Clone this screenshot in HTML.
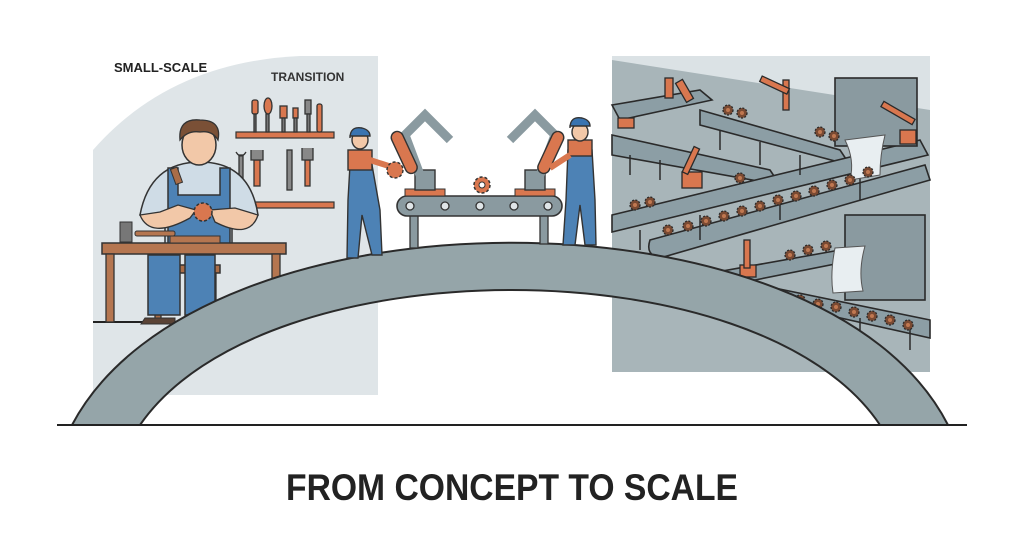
<!DOCTYPE html>
<html><head><meta charset="utf-8"><style>
html,body{margin:0;padding:0;background:#fff;width:1024px;height:555px;overflow:hidden}
svg{display:block}
</style></head><body>
<svg width="1024" height="555" viewBox="0 0 1024 555" xmlns="http://www.w3.org/2000/svg" font-family="Liberation Sans, sans-serif">
<defs>
<g id="gear"><circle r="6" fill="#b8643c" stroke="#333" stroke-width="1.2" stroke-dasharray="2 1.5"/><circle r="2.5" fill="#fff" stroke="#333" stroke-width="0.8"/></g>
<g id="sgear"><circle r="5" fill="#7a4a32" stroke="#2a2a2a" stroke-width="1.3" stroke-dasharray="2 1.4"/><circle r="2" fill="#c07850"/></g>
</defs>
<!-- left panel -->
<path d="M93,395 L93,150 Q170,62 300,56 L378,56 L378,395 Z" fill="#dfe5e8"/>
<line x1="93" y1="322" x2="215" y2="322" stroke="#222" stroke-width="2"/>
<!-- shelves with tools -->
<rect x="236" y="132" width="98" height="6" fill="#d9774f" stroke="#333" stroke-width="1.2"/>
<rect x="236" y="202" width="98" height="6" fill="#d9774f" stroke="#333" stroke-width="1.2"/>
<g stroke="#333" stroke-width="1.3" fill="#d9774f">
<rect x="252" y="100" width="6" height="14" rx="2"/><rect x="254" y="114" width="2" height="18" fill="#777"/>
<ellipse cx="268" cy="106" rx="4" ry="8"/><rect x="266" y="114" width="3" height="18" fill="#777"/>
<rect x="280" y="106" width="7" height="12"/><rect x="282" y="118" width="3" height="14" fill="#777"/>
<rect x="293" y="108" width="5" height="10"/><rect x="294" y="118" width="3" height="14" fill="#777"/>
<rect x="305" y="100" width="6" height="14" fill="#888"/><rect x="307" y="114" width="3" height="18" fill="#777"/>
<rect x="317" y="104" width="5" height="28" rx="2"/>
<rect x="239" y="155" width="4" height="32" fill="#888"/><path d="M236,152 q5,8 10,0" fill="none"/>
<rect x="254" y="160" width="6" height="26" /><path d="M251,150 v10 h12 v-10" fill="#888"/>
<rect x="287" y="150" width="5" height="40" fill="#888"/>
<rect x="305" y="160" width="5" height="26"/><path d="M302,148 v12 h11 v-12" fill="#888"/>
</g>
<!-- table & chair -->
<rect x="150" y="265" width="70" height="8" fill="#a96d48" stroke="#333" stroke-width="1.5"/>
<rect x="155" y="273" width="6" height="48" fill="#a96d48" stroke="#333" stroke-width="1.3"/>
<rect x="210" y="273" width="6" height="48" fill="#a96d48" stroke="#333" stroke-width="1.3"/>
<!-- worker 1 body -->
<rect x="148" y="255" width="32" height="60" fill="#4d82b5" stroke="#333" stroke-width="1.5"/>
<rect x="185" y="255" width="30" height="60" fill="#4d82b5" stroke="#333" stroke-width="1.5"/>
<path d="M145,318 h30 v6 h-34 z M188,318 h28 v6 h-30z" fill="#5a4336" stroke="#333"/>
<path d="M140,215 Q150,162 200,162 Q250,162 258,215 L232,220 L232,245 L165,245 L165,220 Z" fill="#cfdce6" stroke="#333" stroke-width="1.5"/>
<path d="M168,168 L168,245 L230,245 L230,168 L220,168 L220,195 L178,195 L178,168Z" fill="#4d82b5" stroke="#333" stroke-width="1.5"/>
<ellipse cx="199" cy="145" rx="17" ry="20" fill="#f2c8a8" stroke="#333" stroke-width="1.5"/>
<path d="M180,140 Q178,118 200,120 Q222,120 218,140 Q212,130 200,132 Q188,130 180,140Z" fill="#7a5036" stroke="#333" stroke-width="1.3"/>
<path d="M140,215 Q150,240 190,218 L196,210 L178,205 L160,212Z" fill="#f2c8a8" stroke="#333" stroke-width="1.3"/>
<path d="M258,215 Q250,240 215,222 L210,210 L235,208Z" fill="#f2c8a8" stroke="#333" stroke-width="1.3"/>
<circle cx="203" cy="212" r="9" fill="#d9774f" stroke="#333" stroke-width="1.5" stroke-dasharray="3 2"/>
<rect x="173" y="168" width="7" height="16" fill="#a96d48" stroke="#333" transform="rotate(-20 176 176)"/>
<!-- workbench -->
<rect x="102" y="243" width="184" height="11" fill="#b57650" stroke="#333" stroke-width="1.5"/>
<rect x="106" y="254" width="8" height="68" fill="#b57650" stroke="#333" stroke-width="1.3"/>
<rect x="272" y="254" width="8" height="68" fill="#b57650" stroke="#333" stroke-width="1.3"/>
<rect x="120" y="222" width="12" height="20" fill="#777" stroke="#333"/>
<rect x="135" y="231" width="40" height="5" rx="2" fill="#b57650" stroke="#333"/>
<rect x="170" y="236" width="50" height="7" fill="#b57650" stroke="#333"/>
<!-- labels -->
<text x="114" y="72" font-size="13" font-weight="bold" fill="#222">SMALL-SCALE</text>
<text x="271" y="81" font-size="12" font-weight="bold" fill="#333">TRANSITION</text>
<!-- right panel -->
<rect x="612" y="56" width="318" height="316" fill="#a8b5b9"/>
<path d="M612,56 L930,56 L930,110 L612,60Z" fill="#dbe2e5"/>
<g stroke="#2a2a2a" stroke-width="1.6" fill="#8c9ea5">
<path d="M612,105 L700,90 L712,100 L620,120Z"/>
<path d="M700,110 L840,150 L850,165 L700,125Z"/>
<path d="M612,135 L770,170 L780,185 L612,155Z"/>
<path d="M612,215 L920,140 L928,155 L612,232Z"/>
<path d="M650,240 L925,165 L930,180 L660,258 Q645,255 650,240Z"/>
<path d="M700,275 L840,250 L845,262 L705,290Z"/>
<path d="M760,285 L930,320 L930,338 L760,300Z"/>
</g>
<g stroke="#2a2a2a" stroke-width="1.5">
<line x1="630" y1="155" x2="630" y2="175"/><line x1="660" y1="160" x2="660" y2="180"/><line x1="720" y1="130" x2="720" y2="150"/><line x1="760" y1="142" x2="760" y2="165"/><line x1="800" y1="155" x2="800" y2="175"/>
<line x1="640" y1="230" x2="640" y2="250"/><line x1="700" y1="215" x2="700" y2="240"/><line x1="780" y1="196" x2="780" y2="220"/><line x1="860" y1="176" x2="860" y2="200"/>
<line x1="800" y1="305" x2="800" y2="325"/><line x1="860" y1="318" x2="860" y2="340"/><line x1="910" y1="328" x2="910" y2="350"/>
</g>
<rect x="835" y="78" width="82" height="68" fill="#8a9aa0" stroke="#2a2a2a" stroke-width="1.6"/>
<rect x="845" y="215" width="80" height="85" fill="#8a9aa0" stroke="#2a2a2a" stroke-width="1.6"/>
<path d="M845,140 q10,20 5,40 l30,-5 q0,-20 5,-40Z" fill="#e8eef1" stroke="#555"/>
<path d="M835,248 q-5,25 -2,45 l30,-2 q-5,-20 2,-45Z" fill="#e8eef1" stroke="#555"/>
<g fill="#d9774f" stroke="#2a2a2a" stroke-width="1.3">
<rect x="665" y="78" width="8" height="20"/><rect x="680" y="80" width="8" height="22" transform="rotate(-30 684 90)"/>
<rect x="783" y="80" width="6" height="30"/><rect x="760" y="80" width="30" height="6" transform="rotate(25 770 83)"/>
<rect x="682" y="172" width="20" height="16"/><rect x="688" y="146" width="6" height="28" transform="rotate(25 690 160)"/>
<rect x="740" y="265" width="16" height="12"/><rect x="744" y="240" width="6" height="28"/>
<rect x="900" y="130" width="16" height="14"/><rect x="880" y="110" width="36" height="6" transform="rotate(30 898 113)"/>
<rect x="618" y="118" width="16" height="10"/>
</g>
<g>
<use href="#sgear" x="728" y="110"/><use href="#sgear" x="742" y="113"/><use href="#sgear" x="820" y="132"/><use href="#sgear" x="834" y="136"/>
<use href="#sgear" x="635" y="205"/><use href="#sgear" x="650" y="202"/><use href="#sgear" x="740" y="178"/>
<use href="#sgear" x="668" y="230"/><use href="#sgear" x="688" y="226"/><use href="#sgear" x="706" y="221"/><use href="#sgear" x="724" y="216"/><use href="#sgear" x="742" y="211"/><use href="#sgear" x="760" y="206"/><use href="#sgear" x="778" y="200"/><use href="#sgear" x="796" y="196"/><use href="#sgear" x="814" y="191"/><use href="#sgear" x="832" y="185"/><use href="#sgear" x="850" y="180"/><use href="#sgear" x="868" y="172"/>
<use href="#sgear" x="790" y="255"/><use href="#sgear" x="808" y="250"/><use href="#sgear" x="826" y="246"/>
<use href="#sgear" x="782" y="297"/><use href="#sgear" x="800" y="300"/><use href="#sgear" x="818" y="304"/><use href="#sgear" x="836" y="307"/><use href="#sgear" x="854" y="312"/><use href="#sgear" x="872" y="316"/><use href="#sgear" x="890" y="320"/><use href="#sgear" x="908" y="325"/>
</g>
<!-- arch -->
<path d="M72,425 C200,182 824,182 948,425 L880,425 C760,245 264,245 140,425 Z" fill="#95a5a9" stroke="#2a2a2a" stroke-width="2"/>
<line x1="57" y1="425" x2="967" y2="425" stroke="#222" stroke-width="2"/>
<!-- conveyor -->
<rect x="410" y="200" width="8" height="48" fill="#8a9aa0" stroke="#333" stroke-width="1.3"/>
<rect x="540" y="200" width="8" height="44" fill="#8a9aa0" stroke="#333" stroke-width="1.3"/>
<rect x="397" y="196" width="165" height="20" rx="10" fill="#8a9aa0" stroke="#333" stroke-width="1.6"/>
<g fill="#dfe5e8" stroke="#333" stroke-width="1.3"><circle cx="410" cy="206" r="4"/><circle cx="445" cy="206" r="4"/><circle cx="480" cy="206" r="4"/><circle cx="514" cy="206" r="4"/><circle cx="548" cy="206" r="4"/></g>
<rect x="405" y="189" width="40" height="7" fill="#d9774f" stroke="#333"/>
<rect x="515" y="189" width="40" height="7" fill="#d9774f" stroke="#333"/>
<g stroke="#333" stroke-width="1.4">
<rect x="415" y="170" width="20" height="20" fill="#8a9aa0"/>
<path d="M420,175 L405,135 L425,115 L450,140" fill="none" stroke="#8a9aa0" stroke-width="9"/>
<rect x="398" y="130" width="12" height="45" rx="6" fill="#d9774f" transform="rotate(-25 404 152)"/>
<rect x="525" y="170" width="20" height="20" fill="#8a9aa0"/>
<path d="M540,175 L555,135 L535,115 L510,140" fill="none" stroke="#8a9aa0" stroke-width="9"/>
<rect x="545" y="130" width="12" height="45" rx="6" fill="#d9774f" transform="rotate(25 551 152)"/>
</g>
<circle cx="482" cy="185" r="8" fill="#d9774f" stroke="#333" stroke-width="1.5" stroke-dasharray="3 2"/>
<circle cx="482" cy="185" r="3" fill="#fff" stroke="#333"/>
<!-- worker 2 -->
<g stroke="#333" stroke-width="1.4">
<path d="M350,165 L372,165 L380,210 L382,255 L372,255 L362,215 L358,258 L347,258 L348,200Z" fill="#4d82b5"/>
<rect x="348" y="150" width="24" height="20" fill="#d9774f"/>
<ellipse cx="360" cy="140" rx="8" ry="9" fill="#f2c8a8"/>
<path d="M350,138 q0,-12 12,-10 q8,2 8,8 h-20z" fill="#3a74b0"/>
<path d="M370,160 L395,168" stroke="#d9774f" stroke-width="6"/>
<circle cx="395" cy="170" r="8" fill="#d9774f" stroke-dasharray="3 2"/>
</g>
<!-- worker 3 -->
<g stroke="#333" stroke-width="1.4">
<path d="M568,150 L592,150 L595,200 L596,245 L585,245 L580,205 L575,245 L563,245 L566,200Z" fill="#4d82b5"/>
<rect x="568" y="140" width="24" height="16" fill="#d9774f"/>
<ellipse cx="580" cy="132" rx="8" ry="9" fill="#f2c8a8"/>
<path d="M570,128 q0,-12 12,-10 q8,2 8,8 h-20z" fill="#3a74b0"/>
<path d="M570,155 L550,168" stroke="#d9774f" stroke-width="6"/>
</g>
<!-- title -->
<text x="512" y="500" text-anchor="middle" font-size="37" font-weight="bold" fill="#222" textLength="452" lengthAdjust="spacingAndGlyphs">FROM CONCEPT TO SCALE</text>
</svg>
</body></html>
